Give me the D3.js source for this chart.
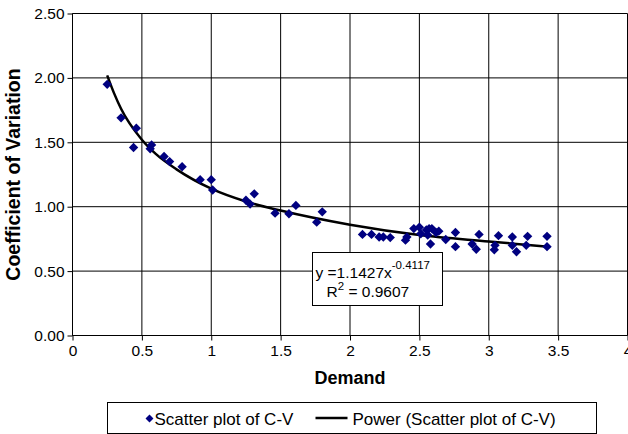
<!DOCTYPE html>
<html>
<head>
<meta charset="utf-8">
<script src="https://cdn.jsdelivr.net/npm/d3@7"></script>
<style>
  body { margin: 0; background: #fff; }
  svg { font-family: Arial, "Liberation Sans", sans-serif; }
</style>
</head>
<body>
<svg id="svg" width="628" height="434"></svg>
<script>
// scatter points
const demand = [0.25, 0.35, 0.46, 0.44, 0.57, 0.56, 0.66, 0.70, 0.79, 0.92,
    1.00, 1.01, 1.25, 1.28, 1.31, 1.46, 1.56, 1.61, 1.76, 1.80,
    2.09, 2.155, 2.21, 2.24, 2.29, 2.40, 2.41, 2.46, 2.50, 2.51,
    2.55, 2.57, 2.59, 2.58, 2.56, 2.62, 2.64, 2.69, 2.76, 2.76,
    2.88, 2.91, 2.93, 3.04, 3.045, 3.07, 3.17, 3.17, 3.20, 3.27,
    3.28, 3.42, 3.42];
const cv = [1.95, 1.69, 1.61, 1.46, 1.48, 1.45, 1.39, 1.35, 1.31, 1.21,
    1.21, 1.13, 1.05, 1.02, 1.10, 0.95, 0.945, 1.01, 0.88, 0.96,
    0.785, 0.785, 0.765, 0.765, 0.76, 0.74, 0.765, 0.83, 0.84, 0.79,
    0.82, 0.83, 0.83, 0.71, 0.78, 0.80, 0.81, 0.745, 0.80, 0.69,
    0.71, 0.67, 0.785, 0.665, 0.70, 0.775, 0.765, 0.70, 0.65, 0.70,
    0.77, 0.77, 0.69];

// power trendline
const trendX = [0.25, 0.3, 0.35, 0.5, 0.6, 0.75, 1, 1.25, 1.5, 2, 2.5, 3, 3.42];
const trendY = [2.02, 1.88, 1.76, 1.52, 1.41, 1.29, 1.14, 1.04, 0.97, 0.86, 0.78, 0.73, 0.69];

const xTicks = [0, 0.5, 1, 1.5, 2, 2.5, 3, 3.5, 4];
const yTicks = [0, 0.5, 1, 1.5, 2, 2.5];

const seriesName = "Scatter plot of C-V";
const trendName = "Power (Scatter plot of C-V)";
const equation = ["y =1.1427x", "-0.4117"];
const rSquared = "0.9607";

const svg = d3.select("#svg");
const plot = {left: 72.5, right: 627.5, top: 13.5, bottom: 335.5};

const xScale = d3.scaleLinear().domain([0, 4]).range([plot.left, plot.right]);
const yScale = d3.scaleLinear().domain([0, 2.5]).range([plot.bottom, plot.top]);

// grid
svg.append("g")
    .selectAll("line")
    .data(yTicks)
    .join("line")
    .attr("x1", plot.left).attr("x2", plot.right)
    .attr("y1", d => yScale(d)).attr("y2", d => yScale(d))
    .attr("stroke", "#000").attr("stroke-width", 1);

svg.append("g")
    .selectAll("line")
    .data(xTicks)
    .join("line")
    .attr("x1", d => xScale(d)).attr("x2", d => xScale(d))
    .attr("y1", plot.top).attr("y2", plot.bottom)
    .attr("stroke", "#000").attr("stroke-width", 1);

// axes
const xAxisCall = d3.axisBottom(xScale).tickValues(xTicks).tickSize(5).tickPadding(4)
    .tickFormat(d3.format("~g"));
const yAxisCall = d3.axisLeft(yScale).tickValues(yTicks).tickSize(5).tickPadding(3)
    .tickFormat(d3.format(".2f"));

svg.append("g")
    .attr("class", "x axis")
    .attr("transform", "translate(0," + plot.bottom + ")")
    .call(xAxisCall)
    .call(g => g.select(".domain").attr("d", "M" + plot.left + ",0H" + plot.right));

svg.append("g")
    .attr("class", "y axis")
    .attr("transform", "translate(" + plot.left + ",0)")
    .call(yAxisCall)
    .call(g => g.select(".domain").attr("d", "M0," + plot.top + "V" + plot.bottom));

svg.selectAll(".axis text")
    .attr("font-family", "Arial, 'Liberation Sans', sans-serif")
    .attr("font-size", 15.5)
    .attr("fill", "#000");
svg.selectAll(".axis line, .axis path").attr("stroke", "#000");

// axis titles
svg.append("text")
    .attr("x", (plot.left + plot.right) / 2).attr("y", 384)
    .attr("text-anchor", "middle")
    .attr("font-size", 18).attr("font-weight", "bold")
    .text("Demand");

svg.append("text")
    .attr("transform", "translate(20," + ((plot.top + plot.bottom) / 2) + ") rotate(-90)")
    .attr("text-anchor", "middle")
    .attr("font-size", 19.5).attr("font-weight", "bold")
    .text("Coefficient of Variation");

// trendline
const line = d3.line()
    .x((d, i) => xScale(trendX[i]))
    .y(d => yScale(d))
    .curve(d3.curveMonotoneX);

svg.append("path")
    .datum(trendY)
    .attr("d", line)
    .attr("fill", "none")
    .attr("stroke", "#000")
    .attr("stroke-width", 2.5);

// scatter
const diamond = d3.symbol().type(d3.symbolDiamond2).size(56);
svg.append("g")
    .selectAll("path")
    .data(demand)
    .join("path")
    .attr("d", diamond)
    .attr("transform", (d, i) => "translate(" + xScale(d) + "," + yScale(cv[i]) + ")")
    .attr("fill", "#000080");

// equation box
const eq = svg.append("g").attr("transform", "translate(312.5,252.5)");
eq.append("rect")
    .attr("width", 130).attr("height", 53)
    .attr("fill", "#fff").attr("stroke", "#000");
const eqText = eq.append("text").attr("x", 3).attr("y", 25).attr("font-size", 15.5);
eqText.append("tspan").text(equation[0]);
eqText.append("tspan").attr("dy", -9).attr("font-size", 11.5).text(equation[1]);
const rText = eq.append("text").attr("x", 14).attr("y", 44).attr("font-size", 15.5);
rText.append("tspan").text("R");
rText.append("tspan").attr("dy", -7).attr("font-size", 11.5).text("2");
rText.append("tspan").attr("dy", 7).text(" = " + rSquared);

// legend
const legend = svg.append("g").attr("transform", "translate(107.5,402.5)");
legend.append("rect")
    .attr("width", 489).attr("height", 31)
    .attr("fill", "#fff").attr("stroke", "#000");
legend.append("path")
    .attr("d", d3.symbol().type(d3.symbolDiamond2).size(40))
    .attr("transform", "translate(42,16)")
    .attr("fill", "#000080");
legend.append("text").attr("x", 47).attr("y", 22).attr("font-size", 17).text(seriesName);
legend.append("line")
    .attr("x1", 208).attr("x2", 240).attr("y1", 15.5).attr("y2", 15.5)
    .attr("stroke", "#000").attr("stroke-width", 2.5);
legend.append("text").attr("x", 245).attr("y", 22).attr("font-size", 17).text(trendName);
</script>
</body>
</html>
